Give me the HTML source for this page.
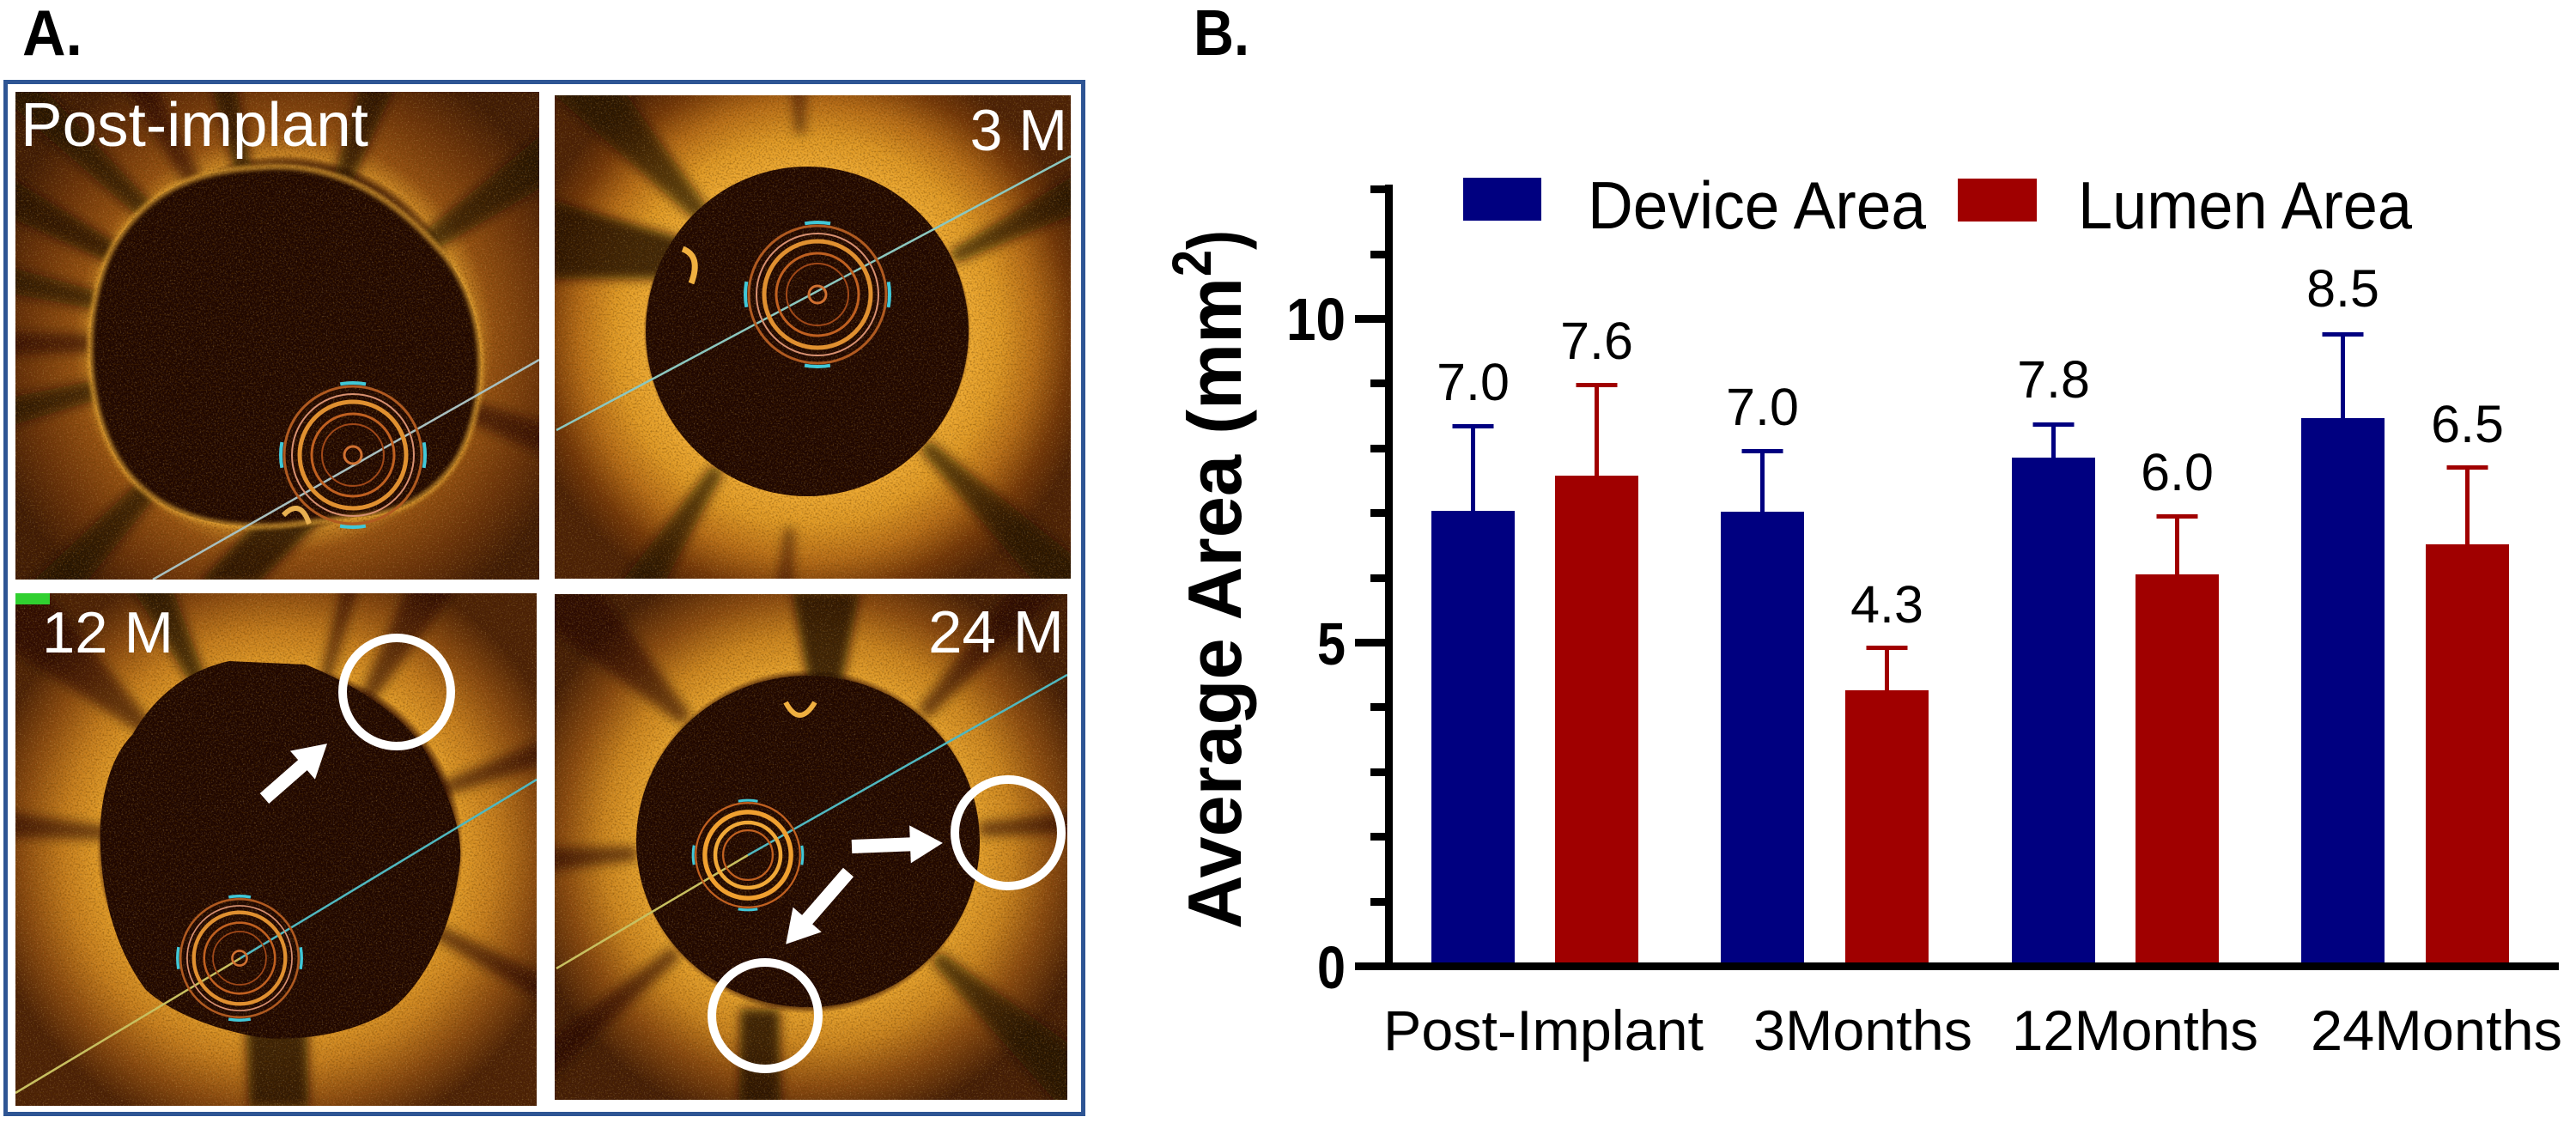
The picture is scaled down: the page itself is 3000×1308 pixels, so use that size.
<!DOCTYPE html>
<html>
<head>
<meta charset="utf-8">
<style>
html,body{margin:0;padding:0;background:#fff;}
body{width:3000px;height:1308px;overflow:hidden;}
svg{display:block;}
</style>
</head>
<body>
<svg width="3000" height="1308" viewBox="0 0 3000 1308" xmlns="http://www.w3.org/2000/svg">
<defs>
  <clipPath id="c1"><rect x="18" y="107" width="610" height="568"/></clipPath>
  <clipPath id="c2"><rect x="646" y="111" width="601" height="563"/></clipPath>
  <clipPath id="c3"><rect x="18" y="691" width="607" height="597"/></clipPath>
  <clipPath id="c4"><rect x="646" y="692" width="597" height="589"/></clipPath>
  <radialGradient id="g1" gradientUnits="userSpaceOnUse" cx="330" cy="400" r="360">
    <stop offset="0" stop-color="#1a0500"/><stop offset="0.58" stop-color="#3a1404"/>
    <stop offset="0.61" stop-color="#c88424"/><stop offset="0.68" stop-color="#945012"/>
    <stop offset="0.84" stop-color="#6a320a"/><stop offset="1" stop-color="#3e1a05"/>
  </radialGradient>
  <radialGradient id="g2" gradientUnits="userSpaceOnUse" cx="940" cy="386" r="340">
    <stop offset="0" stop-color="#1a0500"/><stop offset="0.54" stop-color="#3a1404"/>
    <stop offset="0.56" stop-color="#eeaa32"/><stop offset="0.66" stop-color="#e09a26"/>
    <stop offset="0.78" stop-color="#b86e18"/><stop offset="0.9" stop-color="#723608"/>
    <stop offset="1" stop-color="#4a2006"/>
  </radialGradient>
  <radialGradient id="g3" gradientUnits="userSpaceOnUse" cx="326" cy="988" r="350">
    <stop offset="0" stop-color="#1a0500"/><stop offset="0.58" stop-color="#3a1404"/>
    <stop offset="0.61" stop-color="#e09a28"/><stop offset="0.72" stop-color="#c67e1e"/>
    <stop offset="0.86" stop-color="#8a4a10"/><stop offset="1" stop-color="#4a2006"/>
  </radialGradient>
  <radialGradient id="g4" gradientUnits="userSpaceOnUse" cx="941" cy="980" r="340">
    <stop offset="0" stop-color="#1a0500"/><stop offset="0.56" stop-color="#3a1404"/>
    <stop offset="0.59" stop-color="#e4a02c"/><stop offset="0.7" stop-color="#cc8620"/>
    <stop offset="0.84" stop-color="#8a4a10"/><stop offset="1" stop-color="#421c06"/>
  </radialGradient>
  <filter id="soft" x="-10%" y="-10%" width="120%" height="120%"><feGaussianBlur stdDeviation="6"/></filter>
  <filter id="soft2" x="-10%" y="-10%" width="120%" height="120%"><feGaussianBlur stdDeviation="2"/></filter>
  <filter id="grain" x="0" y="0" width="1" height="1">
    <feTurbulence type="fractalNoise" baseFrequency="0.5" numOctaves="2" seed="7" result="n"/>
    <feColorMatrix in="n" type="matrix" values="0 0 0 0 0.12  0 0 0 0 0.04  0 0 0 0 0  -3.2 0 0 0 1.75"/>
  </filter>
  <filter id="grainL" x="0" y="0" width="1" height="1">
    <feTurbulence type="fractalNoise" baseFrequency="0.6" numOctaves="2" seed="19" result="n"/>
    <feColorMatrix in="n" type="matrix" values="0 0 0 0 1  0 0 0 0 0.75  0 0 0 0 0.3  3.2 0 0 0 -1.75"/>
  </filter>
  <g id="cath">
    <circle r="80" fill="none" stroke="#b05a20" stroke-width="3"/>
    <circle r="71" fill="none" stroke="#d89070" stroke-width="2"/>
    <circle r="62" fill="none" stroke="#e09030" stroke-width="5"/>
    <circle r="48" fill="none" stroke="#c06020" stroke-width="3"/>
    <circle r="36" fill="none" stroke="#a04818" stroke-width="2"/>
    <circle r="10" fill="none" stroke="#d07030" stroke-width="3"/>
    <circle r="84" fill="none" stroke="#40c8d8" stroke-width="4" stroke-dasharray="30 101.95" stroke-dashoffset="15"/>
  </g>
</defs>

<!-- Labels A. B. -->
<text x="26" y="64" font-family="Liberation Sans, Arial, sans-serif" font-weight="bold" font-size="75" textLength="70" lengthAdjust="spacingAndGlyphs">A.</text>
<text x="1390" y="64" font-family="Liberation Sans, Arial, sans-serif" font-weight="bold" font-size="75" textLength="65" lengthAdjust="spacingAndGlyphs">B.</text>

<!-- Frame -->
<rect x="6.5" y="95.5" width="1255" height="1202" fill="#fff" stroke="#2e5594" stroke-width="5"/>

<!-- Image 1 -->
<g clip-path="url(#c1)">
  <rect x="18" y="107" width="610" height="568" fill="url(#g1)"/>
  <g fill="#1e0a02" filter="url(#soft)">
    <polygon opacity="0.7" points="150,-8 450,-22 450,22 150,8" transform="translate(330,400) rotate(166)"/>
    <polygon opacity="0.6" points="150,-8 450,-18 450,18 150,8" transform="translate(330,400) rotate(180)"/>
    <polygon opacity="0.7" points="150,-8 450,-20 450,20 150,8" transform="translate(330,400) rotate(193)"/>
    <polygon opacity="0.8" points="150,-8 450,-26 450,26 150,8" transform="translate(330,400) rotate(208)"/>
    <polygon opacity="0.7" points="150,-8 450,-22 450,22 150,8" transform="translate(330,400) rotate(224)"/>
    <polygon opacity="0.6" points="150,-8 450,-20 450,20 150,8" transform="translate(330,400) rotate(241)"/>
    <polygon opacity="0.8" points="150,-8 450,-20 450,20 150,8" transform="translate(330,400) rotate(257)"/>
    <polygon opacity="0.8" points="150,-8 450,-28 450,28 150,8" transform="translate(330,400) rotate(290)"/>
    <polygon opacity="0.7" points="150,-8 450,-32 450,32 150,8" transform="translate(330,400) rotate(325)"/>
    <polygon opacity="0.6" points="150,-8 450,-24 450,24 150,8" transform="translate(330,400) rotate(20)"/>
    <polygon opacity="0.7" points="150,-8 450,-28 450,28 150,8" transform="translate(330,400) rotate(133)"/>
    <polygon opacity="0.85" points="324,580 400,580 300,680 230,680"/>
  </g>
  <path d="M300,195 C400,185 470,240 520,300 C565,360 568,440 548,500 C530,560 480,598 420,602 L330,612 C250,618 180,600 140,540 C95,470 95,360 130,290 C170,220 230,198 300,195 Z" fill="#1e0600"/>
  <path d="M300,195 C400,185 470,240 520,300 C565,360 568,440 548,500 C530,560 480,598 420,602 L330,612 C250,618 180,600 140,540 C95,470 95,360 130,290 C170,220 230,198 300,195 Z" fill="none" stroke="#e0a030" stroke-width="7" opacity="0.75" filter="url(#soft2)"/>
  <rect x="18" y="107" width="610" height="568" filter="url(#grain)" opacity="0.45"/>
  <rect x="18" y="107" width="610" height="568" filter="url(#grainL)" opacity="0.25"/>
  <line x1="178" y1="675" x2="628" y2="419" stroke="#a8c0c0" stroke-width="2.5"/>
  <use href="#cath" transform="translate(411,530) scale(1)"/>
  <path d="M330,600 q20,-20 30,10" fill="none" stroke="#e8b050" stroke-width="6"/>
</g>

<!-- Image 2 -->
<g clip-path="url(#c2)">
  <rect x="646" y="111" width="601" height="563" fill="url(#g2)"/>
  <g fill="#1e0a02" filter="url(#soft)">
    <polygon opacity="0.85" points="640,232 810,282 810,325 640,325"/>
    <polygon opacity="0.7" points="180,-10 450,-40 450,40 180,10" transform="translate(940,386) rotate(228)"/>
    <polygon opacity="0.7" points="190,-8 450,-28 450,28 190,8" transform="translate(940,386) rotate(333)"/>
    <polygon opacity="0.7" points="190,-8 450,-30 450,30 190,8" transform="translate(940,386) rotate(123)"/>
    <polygon opacity="0.7" points="190,-8 450,-32 450,32 190,8" transform="translate(940,386) rotate(44)"/>
    <polygon opacity="0.5" points="230,-6 450,-20 450,20 230,6" transform="translate(940,386) rotate(95)"/>
    <polygon opacity="0.5" points="230,-6 450,-20 450,20 230,6" transform="translate(940,386) rotate(268)"/>
  </g>
  <ellipse cx="940" cy="386" rx="188" ry="192" fill="#1e0600"/>
  <rect x="646" y="111" width="601" height="563" filter="url(#grain)" opacity="0.4"/>
  <rect x="646" y="111" width="601" height="563" filter="url(#grainL)" opacity="0.25"/>
  <line x1="648" y1="501" x2="1247" y2="182" stroke="#8cc8c0" stroke-width="2.5"/>
  <path d="M795,290 q22,8 10,40" fill="none" stroke="#f0b040" stroke-width="7"/>
  <use href="#cath" transform="translate(952,343) scale(1)"/>
</g>

<!-- Image 3 -->
<g clip-path="url(#c3)">
  <rect x="18" y="691" width="607" height="597" fill="url(#g3)"/>
  <g fill="#1e0a02" filter="url(#soft)">
    <polygon opacity="0.75" points="200,-8 450,-32 450,32 200,8" transform="translate(326,988) rotate(244)"/>
    <polygon opacity="0.6" points="200,-6 450,-14 450,14 200,6" transform="translate(326,988) rotate(285)"/>
    <polygon opacity="0.6" points="200,-8 450,-20 450,20 200,8" transform="translate(326,988) rotate(340)"/>
    <polygon opacity="0.6" points="200,-8 450,-18 450,18 200,8" transform="translate(326,988) rotate(28)"/>
    <polygon opacity="0.6" points="200,-8 450,-22 450,22 200,8" transform="translate(326,988) rotate(185)"/>
    <polygon opacity="0.6" points="200,-8 450,-46 450,46 200,8" transform="translate(326,988) rotate(222)"/>
    <polygon opacity="0.6" points="200,-8 450,-36 450,36 200,8" transform="translate(326,988) rotate(300)"/>
    <polygon opacity="0.85" points="286,1180 358,1180 360,1290 290,1290"/>
  </g>
  <path d="M267,770 L356,774 C420,800 480,840 502,888 C530,940 540,980 535,1010 C525,1090 490,1150 454,1177 C410,1205 350,1212 308,1209 C250,1200 200,1180 170,1153 C130,1100 115,1030 117,960 C120,910 135,875 154,856 C180,810 220,780 267,770 Z" fill="#1e0600"/>
  <rect x="18" y="691" width="607" height="597" filter="url(#grain)" opacity="0.4"/>
  <rect x="18" y="691" width="607" height="597" filter="url(#grainL)" opacity="0.25"/>
  <line x1="18" y1="1273" x2="280" y2="1116" stroke="#c8c060" stroke-width="2.5"/>
  <line x1="280" y1="1116" x2="625" y2="908" stroke="#50b8c0" stroke-width="2.5"/>
  <use href="#cath" transform="translate(279,1116) scale(0.86)"/>
  <rect x="18" y="691" width="40" height="13" fill="#30d030"/>
  <circle cx="462" cy="806" r="63" fill="none" stroke="#fff" stroke-width="10"/>
  <polygon points="0,-8 59,-8 59,-22 97,0 59,22 59,8 0,8" fill="#fff" transform="translate(308,930) rotate(-41.2)"/>
</g>

<!-- Image 4 -->
<g clip-path="url(#c4)">
  <rect x="646" y="692" width="597" height="589" fill="url(#g4)"/>
  <g fill="#1e0a02" filter="url(#soft)">
    <polygon opacity="0.85" points="922,688 1002,688 978,810 944,810"/>
    <polygon opacity="0.85" points="862,1175 908,1175 910,1290 860,1290"/>
    <polygon opacity="0.6" points="200,-8 450,-22 450,22 200,8" transform="translate(941,980) rotate(176)"/>
    <polygon opacity="0.7" points="200,-8 450,-36 450,36 200,8" transform="translate(941,980) rotate(42)"/>
    <polygon opacity="0.6" points="200,-8 450,-18 450,18 200,8" transform="translate(941,980) rotate(356)"/>
    <polygon opacity="0.6" points="200,-8 450,-46 450,46 200,8" transform="translate(941,980) rotate(225)"/>
    <polygon opacity="0.6" points="200,-8 450,-26 450,26 200,8" transform="translate(941,980) rotate(312)"/>
    <polygon opacity="0.6" points="200,-8 450,-20 450,20 200,8" transform="translate(941,980) rotate(140)"/>
  </g>
  <ellipse cx="941" cy="980" rx="200" ry="193" fill="#1e0600"/>
  <rect x="646" y="692" width="597" height="589" filter="url(#grain)" opacity="0.4"/>
  <rect x="646" y="692" width="597" height="589" filter="url(#grainL)" opacity="0.25"/>
  <line x1="648" y1="1128" x2="871" y2="996" stroke="#c8c060" stroke-width="2.5"/>
  <line x1="871" y1="996" x2="1243" y2="786" stroke="#50b8c0" stroke-width="2.5"/>
  <path d="M915,818 q16,30 34,0" fill="none" stroke="#f0b040" stroke-width="6"/>
  <g transform="translate(871,996) scale(0.76)">
    <circle r="80" fill="none" stroke="#c06020" stroke-width="3"/>
    <circle r="66" fill="none" stroke="#f0a030" stroke-width="7"/>
    <circle r="50" fill="none" stroke="#f0a838" stroke-width="6"/>
    <circle r="38" fill="none" stroke="#c06020" stroke-width="3"/>
    <circle r="84" fill="none" stroke="#40c8d8" stroke-width="4" stroke-dasharray="30 101.95" stroke-dashoffset="15"/>
  </g>
  <circle cx="1174" cy="970" r="62" fill="none" stroke="#fff" stroke-width="10"/>
  <circle cx="891" cy="1183" r="62" fill="none" stroke="#fff" stroke-width="10"/>
  <polygon points="0,-8 68,-8 68,-22 106,0 68,22 68,8 0,8" fill="#fff" transform="translate(992,986) rotate(-2.2)"/>
  <polygon points="0,-8 73,-8 73,-22 111,0 73,22 73,8 0,8" fill="#fff" transform="translate(988,1016) rotate(131)"/>
</g>

<!-- Image labels -->
<g font-family="Liberation Sans, Arial, sans-serif" fill="#fff">
  <text x="24" y="170" font-size="72" textLength="405" lengthAdjust="spacingAndGlyphs">Post-implant</text>
  <text x="1243" y="175" font-size="68" text-anchor="end">3 M</text>
  <text x="49" y="760" font-size="68" textLength="153" lengthAdjust="spacingAndGlyphs">12 M</text>
  <text x="1081" y="760" font-size="70" textLength="158" lengthAdjust="spacingAndGlyphs">24 M</text>
</g>

<!-- Chart B -->
<g font-family="Liberation Sans, Arial, sans-serif">
  <!-- legend -->
  <rect x="1704" y="207" width="91" height="50" fill="#000080"/>
  <text x="1849" y="266" font-size="78" textLength="394" lengthAdjust="spacingAndGlyphs">Device Area</text>
  <rect x="2280" y="208" width="92" height="50" fill="#a00000"/>
  <text x="2420" y="266" font-size="78" textLength="389" lengthAdjust="spacingAndGlyphs">Lumen Area</text>

  <!-- bars -->
  <rect x="1667" y="595" width="97" height="530" fill="#000080"/>
  <rect x="1811" y="554" width="97" height="571" fill="#a00000"/>
  <rect x="2004" y="596" width="97" height="529" fill="#000080"/>
  <rect x="2149" y="804" width="97" height="321" fill="#a00000"/>
  <rect x="2343" y="533" width="97" height="592" fill="#000080"/>
  <rect x="2487" y="669" width="97" height="456" fill="#a00000"/>
  <rect x="2680" y="487" width="97" height="638" fill="#000080"/>
  <rect x="2825" y="634" width="97" height="491" fill="#a00000"/>

  <!-- error bars -->
  <g fill="#000080">
    <rect x="1713" y="494" width="5" height="102"/><rect x="1691.5" y="494" width="48" height="5"/>
    <rect x="2050" y="523" width="5" height="74"/><rect x="2028.5" y="523" width="48" height="5"/>
    <rect x="2389" y="492" width="5" height="42"/><rect x="2367.5" y="492" width="48" height="5"/>
    <rect x="2726" y="387" width="5" height="101"/><rect x="2704.5" y="387" width="48" height="5"/>
  </g>
  <g fill="#a00000">
    <rect x="1857" y="446" width="5" height="109"/><rect x="1835.5" y="446" width="48" height="5"/>
    <rect x="2195" y="752" width="5" height="53"/><rect x="2173.5" y="752" width="48" height="5"/>
    <rect x="2533" y="599" width="5" height="71"/><rect x="2511.5" y="599" width="48" height="5"/>
    <rect x="2871" y="542" width="5" height="93"/><rect x="2849.5" y="542" width="48" height="5"/>
  </g>

  <!-- value labels -->
  <g font-size="61" text-anchor="middle">
    <text x="1715.5" y="466">7.0</text>
    <text x="1859.5" y="418">7.6</text>
    <text x="2052.5" y="495">7.0</text>
    <text x="2197.5" y="725">4.3</text>
    <text x="2391.5" y="463">7.8</text>
    <text x="2535.5" y="571">6.0</text>
    <text x="2728.5" y="357">8.5</text>
    <text x="2873.5" y="515">6.5</text>
  </g>

  <!-- axes -->
  <rect x="1613" y="215" width="9" height="915" fill="#000"/>
  <rect x="1578" y="1121" width="1402" height="9" fill="#000"/>
  <g fill="#000">
    <rect x="1596" y="216" width="17" height="9"/>
    <rect x="1596" y="292" width="17" height="9"/>
    <rect x="1578" y="367" width="35" height="9"/>
    <rect x="1596" y="442" width="17" height="9"/>
    <rect x="1596" y="518" width="17" height="9"/>
    <rect x="1596" y="593" width="17" height="9"/>
    <rect x="1596" y="669" width="17" height="9"/>
    <rect x="1578" y="744" width="35" height="9"/>
    <rect x="1596" y="819" width="17" height="9"/>
    <rect x="1596" y="895" width="17" height="9"/>
    <rect x="1596" y="970" width="17" height="9"/>
    <rect x="1596" y="1046" width="17" height="9"/>
  </g>
  <g font-size="70" font-weight="bold" text-anchor="end">
    <text x="1567" y="396" textLength="69" lengthAdjust="spacingAndGlyphs">10</text>
    <text x="1567" y="774" textLength="33" lengthAdjust="spacingAndGlyphs">5</text>
    <text x="1567" y="1151" textLength="33" lengthAdjust="spacingAndGlyphs">0</text>
  </g>

  <!-- y title -->
  <g transform="translate(1445,1082) rotate(-90)" font-weight="bold">
    <text x="0" y="0" font-size="88" textLength="759" lengthAdjust="spacingAndGlyphs">Average Area (mm</text>
    <text x="760" y="-35" font-size="64" textLength="31" lengthAdjust="spacingAndGlyphs">2</text>
    <text x="791" y="0" font-size="88" textLength="23" lengthAdjust="spacingAndGlyphs">)</text>
  </g>

  <!-- x labels -->
  <g font-size="66">
    <text x="1611" y="1223" textLength="373" lengthAdjust="spacingAndGlyphs">Post-Implant</text>
    <text x="2042" y="1223" textLength="255" lengthAdjust="spacingAndGlyphs">3Months</text>
    <text x="2343" y="1223" textLength="287" lengthAdjust="spacingAndGlyphs">12Months</text>
    <text x="2691" y="1223" textLength="293" lengthAdjust="spacingAndGlyphs">24Months</text>
  </g>
</g>
</svg>
</body>
</html>
